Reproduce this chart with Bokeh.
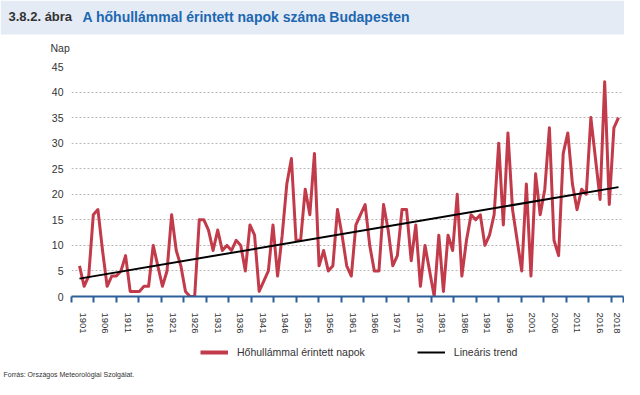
from bokeh.plotting import figure
from bokeh.layouts import column
from bokeh.models import (Range1d, FixedTicker, Legend, LegendItem, Label, Plot,
                          BoxAnnotation, CustomJSTickFormatter)
from bokeh.embed import file_html
from bokeh.resources import INLINE

# ---------------- data ----------------
years = list(range(1901, 2019))
heatwave_days = [
    6, 2, 4, 16, 17, 9, 2, 4, 4, 5,        # 1901-1910
    8, 1, 1, 1, 2, 2, 10, 6, 2, 5,         # 1911-1920
    16, 9, 6, 1, 0, 0, 15, 15, 13, 9,      # 1921-1930
    13, 9, 10, 9, 11, 10, 5, 14, 12, 1,    # 1931-1940
    3, 5, 14, 4, 12, 22, 27, 11, 11, 21,   # 1941-1950
    16, 28, 6, 9, 5, 6, 17, 12, 6, 4,      # 1951-1960
    14, 16, 18, 10, 5, 5, 18, 13, 6, 8,    # 1961-1970
    17, 17, 7, 14, 2, 10, 5, 0, 12, 1,     # 1971-1980
    12, 9, 20, 4, 11, 16, 15, 16, 10, 12,  # 1981-1990
    16, 30, 14, 32, 17, 11, 5, 22, 4, 24,  # 1991-2000
    16, 21, 33, 11, 8, 28, 32, 22, 17, 21, # 2001-2010
    20, 35, 27, 19, 42, 18, 33, 35,        # 2011-2018
]
assert len(years) == len(heatwave_days)
trend_years = [1901, 2018]
trend_values = [3.5, 21.4]
x_tick_labels = [str(y) for y in range(1901, 2017, 5)] + ["2018"]
y_ticks = [0, 5, 10, 15, 20, 25, 30, 35, 40, 45]

title_prefix = "3.8.2. ábra"
title_text = "A hőhullámmal érintett napok száma Budapesten"
y_unit = "Nap"
series_name = "Hőhullámmal érintett napok"
trend_name = "Lineáris trend"
source_text = "Forrás: Országos Meteorológiai Szolgálat."

# ---------------- layout constants (pixels) ----------------
W = 624
HEAD_H, MAIN_H, FOOT_H = 60, 276, 43
FL, FR, FT, FB = 71, 623, 6, 241           # main frame edges
PX_FIRST, PX_LAST = 79, 618                # pixel of first / last year
TICK_STEP_PX = 22.48

FONT = "Liberation Sans"
RED = "#c23b4b"
BLUE_AXIS = "#2d5f9a"
TXT = "#333333"

NO_ALIGN = {"frame_align": False} if "frame_align" in Plot.properties() else {}


def text_panel(height):
    f = figure(width=W, height=height, output_backend="svg", toolbar_location=None,
               x_range=Range1d(0, W), y_range=Range1d(height, 0),
               x_axis_type=None, y_axis_type=None,
               min_border_left=0, min_border_right=0, min_border_top=0,
               min_border_bottom=0, **NO_ALIGN)
    f.outline_line_color = None
    f.xgrid.visible = False
    f.ygrid.visible = False
    f.background_fill_color = "white"
    f.border_fill_color = "white"
    return f


# ---------------- header ----------------
head = text_panel(HEAD_H)
head.add_layout(BoxAnnotation(left=0, right=W, top=0, bottom=34,
                              fill_color="#e4ebf4", fill_alpha=1, line_color=None))
head.add_layout(Label(x=8, y=16, text=title_prefix, text_font=FONT, text_font_size="13px",
                      text_font_style="bold", text_color=TXT, text_baseline="middle"))
head.add_layout(Label(x=82, y=16, text=title_text, text_font=FONT, text_font_size="14px",
                      text_font_style="bold", text_color="#1d67b1", text_baseline="middle"))
head.add_layout(Label(x=50, y=47, text=y_unit, text_font=FONT, text_font_size="10.5px",
                      text_color=TXT, text_baseline="middle"))

# ---------------- main chart ----------------
s = (PX_LAST - PX_FIRST) / (years[-1] - years[0])
x_start = years[0] - (PX_FIRST - FL) / s
x_end = years[-1] + (FR - PX_LAST) / s
step = TICK_STEP_PX / s
eps = 1e-6
bounds = [x_start + eps + k * step for k in range(len(x_tick_labels))] + [x_end - eps]
label_pos = [(bounds[i] + bounds[i + 1]) / 2 for i in range(len(x_tick_labels))]

p = figure(width=W, height=MAIN_H, output_backend="svg", toolbar_location=None,
           x_range=Range1d(x_start, x_end), y_range=Range1d(0, 45),
           min_border_left=FL, min_border_right=W - FR,
           min_border_top=FT, min_border_bottom=MAIN_H - FB, **NO_ALIGN)
p.outline_line_color = None
p.background_fill_color = "white"
p.border_fill_color = "white"

xa = p.xaxis[0]
xa.ticker = FixedTicker(ticks=label_pos, minor_ticks=bounds)
xa.formatter = CustomJSTickFormatter(args=dict(labels=x_tick_labels),
                                     code="return labels[index]")
xa.major_label_orientation = "vertical"
xa.major_tick_line_color = None
xa.major_tick_out = 0
xa.major_tick_in = 0
xa.minor_tick_line_color = BLUE_AXIS
xa.minor_tick_line_width = 2
xa.minor_tick_out = 6
xa.minor_tick_in = 0
xa.axis_line_color = BLUE_AXIS
xa.axis_line_width = 2
xa.major_label_standoff = 10
xa.major_label_text_font = FONT
xa.major_label_text_font_size = "9.5px"
xa.major_label_text_color = TXT

ya = p.yaxis[0]
ya.ticker = FixedTicker(ticks=y_ticks)
ya.axis_line_color = None
ya.major_tick_line_color = None
ya.minor_tick_line_color = None
ya.major_tick_out = 0
ya.major_label_standoff = 8
ya.major_label_text_font = FONT
ya.major_label_text_font_size = "10.5px"
ya.major_label_text_color = TXT

p.xgrid.visible = False
p.ygrid.grid_line_color = "#b8b8b8"
p.ygrid.grid_line_dash = "2 2"
p.ygrid.grid_line_width = 1

p.line(years, heatwave_days, line_color=RED, line_width=3, line_join="round")
p.line(trend_years, trend_values, line_color="black", line_width=2)

# ---------------- footer: legend + source ----------------
foot = text_panel(FOOT_H)
# invisible legend proxies (a single NaN point) carrying the chart lines' styles
nan = float("nan")
leg_red = foot.line([nan], [nan], line_color=RED, line_width=4)
leg_trend = foot.line([nan], [nan], line_color="black", line_width=2)
legend = Legend(items=[LegendItem(label=series_name, renderers=[leg_red]),
                       LegendItem(label=trend_name, renderers=[leg_trend])],
                orientation="horizontal", location=(200, 20), padding=0, margin=0,
                spacing=52, border_line_color=None, background_fill_alpha=0,
                glyph_width=28, glyph_height=14, label_height=14, label_standoff=9,
                label_text_font=FONT, label_text_font_size="10.5px",
                label_text_color=TXT)
foot.add_layout(legend)
foot.add_layout(Label(x=3, y=38, text=source_text, text_font=FONT, text_font_size="7px",
                      text_color=TXT, text_baseline="middle"))

layout = column(head, p, foot, spacing=0)
open("out.html", "w").write(file_html(layout, INLINE))
